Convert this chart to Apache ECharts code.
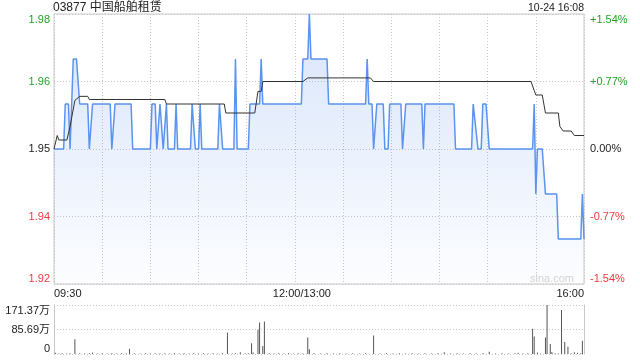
<!DOCTYPE html>
<html><head><meta charset="utf-8">
<script src="https://cdn.jsdelivr.net/npm/echarts@6/dist/echarts.min.js"></script>
<style>html,body{margin:0;padding:0;background:#fff}#c{width:640px;height:360px}</style>
</head><body><div id="c"></div>
<script>
const stockTitle = '03877 中国船舶租赁';
const stamp = '10-24 16:08';
const watermark = 'sina.com';
const prevClose = 1.95;
const priceMin = 1.92, priceMax = 1.98;
const priceTickLabels = ['1.92', '1.94', '1.95', '1.96', '1.98'];
const pctTickLabels = ['-1.54%', '-0.77%', '0.00%', '+0.77%', '+1.54%'];
const timeLabelMinutes = [0, 150, 330];
const timeLabels = ['09:30', '12:00/13:00', '16:00'];

// price vertices: minutes since 09:30 (lunch removed) and price
const priceT = [0,6,7,9,10,11,12,14,16,21,22,23,24,35,36,37,38,48,49,60,61,63,64,65,66,67,68,69,70,71,75,76,77,85,86,87,88,90,91,92,102,103,104,105,112,113,114,121,122,128,129,130,154,155,158,159,160,170,171,194,195,196,198,199,200,201,205,206,208,209,216,217,218,219,229,230,231,249,250,260,261,262,264,266,267,269,271,298,299,300,301,304,306,313,314,328,329,330];
const priceV = [1.95,1.95,1.96,1.96,1.95,1.95,1.97,1.97,1.96,1.96,1.95,1.95,1.96,1.96,1.95,1.95,1.96,1.96,1.95,1.95,1.96,1.96,1.95,1.95,1.96,1.96,1.95,1.95,1.96,1.95,1.95,1.96,1.95,1.95,1.96,1.96,1.95,1.95,1.96,1.95,1.95,1.96,1.96,1.95,1.95,1.97,1.95,1.95,1.96,1.96,1.97,1.96,1.96,1.97,1.97,1.98,1.97,1.97,1.96,1.96,1.97,1.96,1.96,1.95,1.95,1.96,1.96,1.95,1.95,1.96,1.96,1.95,1.95,1.96,1.96,1.95,1.96,1.96,1.95,1.95,1.96,1.96,1.95,1.95,1.96,1.96,1.95,1.95,1.96,1.94,1.95,1.95,1.94,1.94,1.93,1.93,1.94,1.93];

// average price line vertices
const avgT = [0,2,3,8,10,13,16,21,22,69,70,106,107,125,127,129,130,155,158,197,199,297,299,300,304,306,314,315,317,322,324,330];
const avgV = [1.950,1.953,1.952,1.952,1.955,1.9608,1.9617,1.9617,1.961,1.961,1.960,1.960,1.958,1.958,1.9628,1.9628,1.965,1.965,1.9658,1.9658,1.965,1.965,1.963,1.962,1.962,1.958,1.958,1.955,1.954,1.954,1.953,1.953];

// volume (万) per minute
const volT = [1,3,5,8,10,13,16,19,22,24,27,30,33,36,39,42,45,47,50,54,57,60,63,66,69,72,75,78,81,84,87,90,93,96,99,102,105,108,111,113,116,119,121,123,124,127,128,130,131,134,137,140,143,146,149,152,155,158,159,162,166,170,174,178,182,186,190,194,199,203,207,211,215,219,223,227,231,235,239,243,247,251,255,259,263,267,271,275,279,283,287,289,292,295,298,299,301,303,306,307,309,310,312,314,316,318,320,322,324,326,328,329];
const volV = [4,2,3,2,3,52,3,2,3,5,2,3,2,3,2,3,2,18,3,2,3,2,3,2,3,2,3,2,3,2,3,2,3,2,3,2,3,75,2,3,6,2,3,38,5,85,110,28,114,3,2,3,2,3,2,3,2,58,17,3,2,3,2,3,2,3,2,3,65,2,3,2,3,2,3,2,3,2,3,6,2,3,2,3,2,3,8,2,3,2,3,4,2,3,88,61,5,2,58,171.37,35,7,3,2,154,42,25,3,6,4,3,46];
const volMax = 171.37;
const volTickLabels = ['0', '85.69万', '171.37万'];

const FONT = "'Liberation Sans', Arial, 'Noto Sans CJK SC', sans-serif";
const GREEN = '#22a322', RED = '#f03a3a', DARK = '#222';
function levelColor(v) {
  if (v > prevClose + 1e-6) return GREEN;
  if (v < prevClose - 1e-6) return RED;
  return DARK;
}

const chart = echarts.init(document.getElementById('c'), null, {renderer: 'canvas'});
const priceData = priceT.map((t, i) => [t, priceV[i]]);
const avgData = avgT.map((t, i) => [t, avgV[i]]);
const volData = volT.map((t, i) => [t, volV[i]]);

chart.setOption({
  animation: false,
  textStyle: {fontFamily: FONT},
  title: [
    {text: stockTitle, left: 53, top: 2, padding: 0, textStyle: {fontSize: 12, fontWeight: 'normal', color: '#222', fontFamily: FONT}},
    {text: stamp, right: 56, top: 3, padding: 0, textStyle: {fontSize: 10.5, fontWeight: 'normal', color: '#222', fontFamily: FONT}},
    {text: watermark, right: 66, top: 273, padding: 0, textStyle: {fontSize: 11, fontWeight: 'normal', color: '#d4d4d4', fontFamily: FONT}}
  ],
  grid: [
    {left: 54, right: 56, top: 14, height: 270, show: true, borderColor: '#c8c8c8', borderWidth: 1, backgroundColor: 'transparent'},
    {left: 54, right: 56, top: 305, height: 49}
  ],
  xAxis: [
    {
      type: 'value', gridIndex: 0, min: 0, max: 330, interval: 30,
      axisLine: {show: false}, axisTick: {show: false},
      splitLine: {show: true, lineStyle: {color: '#c8c8c8', type: [1, 2], width: 1}},
      axisLabel: {
        show: true, fontSize: 11, color: '#222', margin: 4, fontFamily: FONT,
        alignMinLabel: 'left', alignMaxLabel: 'right', hideOverlap: false,
        formatter: function (v) {
          const k = timeLabelMinutes.indexOf(Math.round(v));
          if (k < 0) return '';
          if (k === 1) return '{m|' + timeLabels[k] + '}';
          return timeLabels[k];
        },
        rich: {m: {fontSize: 11, color: '#222', padding: [0, 0, 0, 14], fontFamily: FONT}}
      }
    },
    {
      type: 'value', gridIndex: 1, min: 0, max: 330, interval: 30,
      axisLine: {show: false}, axisTick: {show: false}, axisLabel: {show: false},
      splitLine: {show: false}
    }
  ],
  yAxis: [
    {
      type: 'value', gridIndex: 0, min: priceMin, max: priceMax, interval: (priceMax - priceMin) / 4,
      axisLine: {show: false}, axisTick: {show: false},
      splitLine: {show: true, lineStyle: {color: '#c8c8c8', type: [1, 2], width: 1}},
      axisLabel: {
        fontSize: 11, margin: 4, fontFamily: FONT,
        verticalAlignMaxLabel: 'top', verticalAlignMinLabel: 'bottom',
        formatter: (v, i) => priceTickLabels[i],
        color: (v) => levelColor(Number(v))
      }
    },
    {
      type: 'value', gridIndex: 0, position: 'right', min: priceMin, max: priceMax, interval: (priceMax - priceMin) / 4,
      axisLine: {show: false}, axisTick: {show: false}, splitLine: {show: false},
      axisLabel: {
        fontSize: 11, margin: 6, fontFamily: FONT,
        verticalAlignMaxLabel: 'top', verticalAlignMinLabel: 'bottom',
        formatter: (v, i) => pctTickLabels[i],
        color: (v) => levelColor(Number(v))
      }
    },
    {
      type: 'value', gridIndex: 1, min: 0, max: volMax, interval: volMax / 2,
      axisLine: {show: true, lineStyle: {color: '#c8c8c8'}}, axisTick: {show: false},
      splitLine: {show: true, lineStyle: {color: '#c8c8c8', type: [1, 2], width: 1}},
      axisLabel: {
        fontSize: 11, margin: 4, color: '#222', fontFamily: FONT,
        verticalAlignMaxLabel: 'top', verticalAlignMinLabel: 'bottom',
        formatter: (v, i) => volTickLabels[i]
      }
    },
    {
      type: 'value', gridIndex: 1, position: 'right', min: 0, max: volMax,
      axisLine: {show: true, lineStyle: {color: '#c8c8c8'}}, axisTick: {show: false},
      axisLabel: {show: false}, splitLine: {show: false}
    }
  ],
  series: [
    {
      type: 'line', xAxisIndex: 0, yAxisIndex: 0, data: priceData, symbol: 'none',
      lineStyle: {color: '#5b93f0', width: 1.5},
      areaStyle: {
        origin: 'start',
        color: new echarts.graphic.LinearGradient(0, 0, 0, 1, [
          {offset: 0, color: 'rgba(70,130,235,0.30)'},
          {offset: 1, color: 'rgba(70,130,235,0.02)'}
        ])
      },
      z: 3
    },
    {
      type: 'line', xAxisIndex: 0, yAxisIndex: 0, data: avgData, symbol: 'none',
      lineStyle: {color: '#333', width: 1}, z: 4
    },
    {
      type: 'bar', xAxisIndex: 1, yAxisIndex: 2, data: volData, barWidth: 1,
      itemStyle: {color: '#555'}
    }
  ]
});
</script>
</body></html>
